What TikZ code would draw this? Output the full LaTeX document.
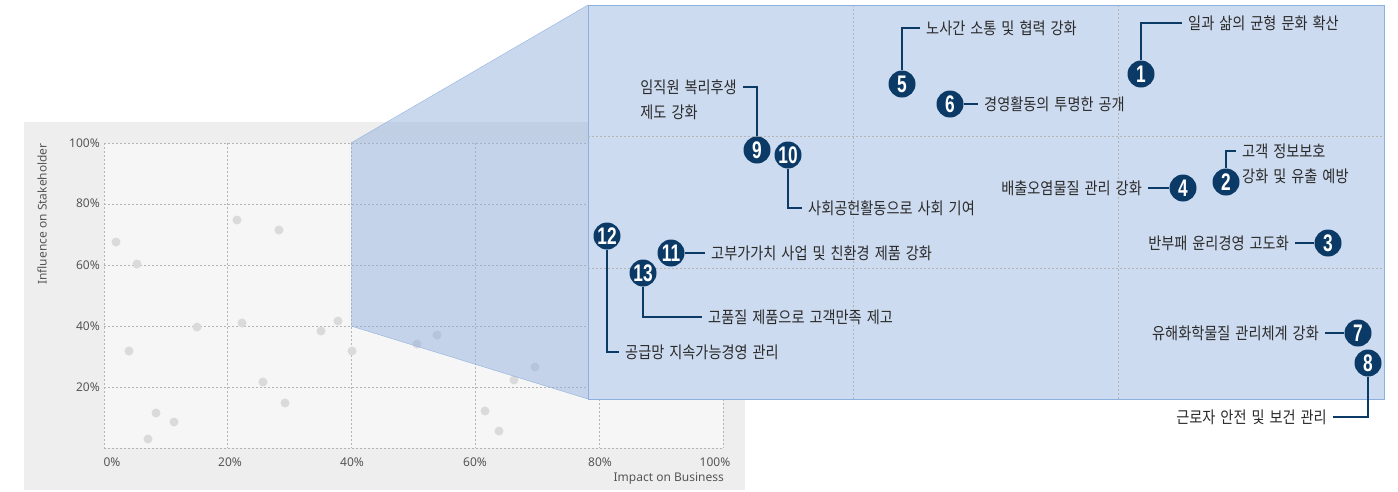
\documentclass[tikz,border=0pt]{standalone}
\usepackage{fontspec}
\usepackage{tikz}
\setmainfont[FakeStretch=0.86,WordSpace=1.57]{Noto Sans CJK KR}
\newfontfamily\axisfont{Noto Sans}
\newfontfamily\numfont[FakeStretch=0.72]{Liberation Sans}
\usetikzlibrary{calc}

\definecolor{navy}{HTML}{0C3A66}
\definecolor{txtgray}{HTML}{2A2A2A}
\definecolor{axisgray}{HTML}{555555}
\definecolor{gridgray}{HTML}{B4B4B4}
\definecolor{bggray}{HTML}{EEEEEE}
\definecolor{plotbg}{HTML}{F5F6F5}
\definecolor{dotgray}{HTML}{DADADA}
\definecolor{zoomblue}{HTML}{95B1DE}
\definecolor{panelblue}{HTML}{CDDBF0}
\definecolor{edgeblue}{HTML}{8EB0E0}

\tikzset{
  numdot/.style={circle, fill=navy, text=white, inner sep=0pt, minimum size=27pt,
    font=\numfont\bfseries\fontsize{24}{24}\selectfont},
  lbl/.style={inner xsep=6pt, inner ysep=2pt, text=txtgray, font=\fontsize{16.5}{25}\selectfont},
  lead/.style={draw=navy, line width=1.4pt},
  gridline/.style={draw=gridgray, dash pattern=on 2pt off 2pt, line width=0.7pt},
  ticklbl/.style={text=axisgray, inner sep=0pt, font=\axisfont\fontsize{12}{12}\selectfont},
}

\begin{document}
\begin{tikzpicture}[x=1pt,y=-1pt]
  \useasboundingbox (0,0) rectangle (1398,491);

  % chart background
  \fill[bggray] (24,122) rectangle (745,490);
  \fill[plotbg] (104,143) rectangle (723,448);
  \foreach \i in {0,...,5}
  {
      \draw[gridline] (104+\i*123.8,143) -- (104+\i*123.8,448);
      \draw[gridline] (104,448-\i*61) -- (723,448-\i*61);
  }

  % axis labels
  \foreach \v/\py in {100/143,80/203,60/265,40/326,20/387}
      \node[ticklbl, anchor=east] (y\v) at (100,\py) {\v\%};
  \foreach \v/\px in {0/112,20/230,40/352,60/475,80/600,100/715}
      \node[ticklbl] (x\v) at (\px,462) {\v\%};
  \node[ticklbl, anchor=east] (xtitle) at (724,479) {Impact on Business};
  \node[ticklbl, rotate=90] (ytitle) at (42,214) {Influence on Stakeholder};

  % issues
  \foreach \px/\py in {116/242,137/264,237/220,279/230,197/327,242/323,129/351,321/331,
                       338/321,352/351,263/382,285/403,156/413,174/422,148/439,
                       417/344,437/335,535/367,514/380,485/411,499/431}
      \fill[dotgray] (\px,\py) circle (4.5);

  % zoom
  \fill[zoomblue, fill opacity=0.5] (351,143) -- (588,5) -- (588,399) -- (351,326) -- cycle;
  \draw[edgeblue] (351,143) -- (588,5);
  \draw[edgeblue] (351,326) -- (588,399);
  \fill[panelblue] (588,5) rectangle (1384,399);
  \draw[edgeblue] (588,5) rectangle (1384,399);
  \draw[gridline] (853,5) -- (853,399);
  \draw[gridline] (1118,5) -- (1118,399);
  \draw[gridline] (588,136) -- (1384,136);
  \draw[gridline] (588,268) -- (1384,268);

  % markers
  \node[numdot] (n1) at (1141,74) {1};
  \node[numdot] (n2) at (1226,182) {2};
  \node[numdot] (n3) at (1328,243) {3};
  \node[numdot] (n4) at (1183,188) {4};
  \node[numdot] (n5) at (902,84) {5};
  \node[numdot] (n6) at (950,104) {6};
  \node[numdot] (n7) at (1358,333) {7};
  \node[numdot] (n8) at (1368,363) {8};
  \node[numdot] (n9) at (757,150) {9};
  \node[numdot] (n10) at (788,155) {10};
  \node[numdot] (n11) at (671,253) {11};
  \node[numdot] (n12) at (607,236) {12};
  \node[numdot] (n13) at (643,273) {13};

  % labels
  \node[lbl, anchor=west] (t1) at (1182,23) {일과 삶의 균형 문화 확산};
  \node[lbl, anchor=west, align=left] (t2) at (1236,164) {고객 정보보호\\강화 및 유출 예방};
  \node[lbl, anchor=east] (t3) at (1295,243) {반부패 윤리경영 고도화};
  \node[lbl, anchor=east] (t4) at (1148,188) {배출오염물질 관리 강화};
  \node[lbl, anchor=west] (t5) at (920,28) {노사간 소통 및 협력 강화};
  \node[lbl, anchor=west] (t6) at (978,104) {경영활동의 투명한 공개};
  \node[lbl, anchor=east] (t7) at (1325,333) {유해화학물질 관리체계 강화};
  \node[lbl, anchor=east] (t8) at (1333,417) {근로자 안전 및 보건 관리};
  \node[lbl, anchor=east, align=left] (t9) at (743,100) {임직원 복리후생\\제도 강화};
  \node[lbl, anchor=west] (t10) at (802,208) {사회공헌활동으로 사회 기여};
  \node[lbl, anchor=west] (t11) at (705,253) {고부가가치 사업 및 친환경 제품 강화};
  \node[lbl, anchor=west] (t12) at (619,352) {공급망 지속가능경영 관리};
  \node[lbl, anchor=west] (t13) at (702,317) {고품질 제품으로 고객만족 제고};

  % leaders
  \draw[lead] (n1) |- (t1);
  \draw[lead] (n2) |- ([yshift=13pt]t2.west);
  \draw[lead] (n3) -- (t3);
  \draw[lead] (n4) -- (t4);
  \draw[lead] (n5) |- (t5);
  \draw[lead] (n6) -- (t6);
  \draw[lead] (n7) -- (t7);
  \draw[lead] (n8) |- (t8);
  \draw[lead] (n9) |- ([yshift=13pt]t9.east);
  \draw[lead] (n10) |- (t10);
  \draw[lead] (n11) -- (t11);
  \draw[lead] (n12) |- (t12);
  \draw[lead] (n13) |- (t13);
\end{tikzpicture}
\end{document}
